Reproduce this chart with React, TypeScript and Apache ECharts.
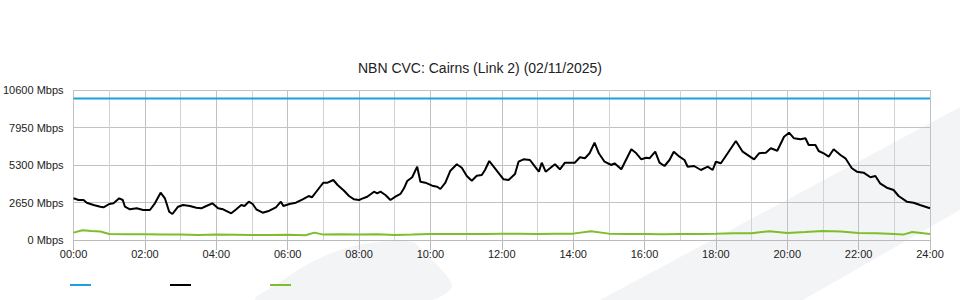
import React, { useEffect, useRef } from "react";
import * as echarts from "echarts";

const title = "NBN CVC: Cairns (Link 2) (02/11/2025)";
const xTickLabels = ["00:00", "02:00", "04:00", "06:00", "08:00", "10:00", "12:00", "14:00", "16:00", "18:00", "20:00", "22:00", "24:00"];
const yTicks = [0, 2650, 5300, 7950, 10600];

const capacityHours = [0, 24];
const capacityMbps = [10000, 10000];

const trafficHours = [
  0.0, 0.14, 0.28, 0.37, 0.56, 0.75, 0.84, 1.0, 1.12, 1.28, 1.38, 1.44, 1.58, 1.77, 1.95, 2.14, 2.28, 2.44, 2.56, 2.68,
  2.77, 2.93, 3.07, 3.26, 3.44, 3.58, 3.72, 3.89, 4.05, 4.19, 4.42, 4.56, 4.7, 4.79, 4.91, 5.02, 5.12, 5.3, 5.49, 5.67,
  5.81, 5.88, 6.05, 6.23, 6.42, 6.59, 6.68, 6.84, 7.0, 7.12, 7.28, 7.4, 7.58, 7.72, 7.86, 8.0, 8.09, 8.23, 8.42, 8.51,
  8.6, 8.74, 8.88, 9.02, 9.16, 9.26, 9.35, 9.49, 9.63, 9.72, 9.86, 10.05, 10.19, 10.28, 10.42, 10.56, 10.74, 10.88, 11.02, 11.16,
  11.3, 11.44, 11.53, 11.65, 11.81, 12.05, 12.19, 12.37, 12.47, 12.61, 12.79, 12.93, 13.04, 13.12, 13.23, 13.35, 13.49, 13.63, 13.77, 14.05,
  14.19, 14.33, 14.46, 14.6, 14.72, 14.88, 15.07, 15.16, 15.35, 15.49, 15.63, 15.77, 15.91, 16.05, 16.14, 16.3, 16.42, 16.56, 16.7, 16.82,
  16.98, 17.12, 17.21, 17.39, 17.58, 17.77, 17.91, 18.0, 18.14, 18.33, 18.56, 18.75, 19.07, 19.21, 19.4, 19.54, 19.72, 19.91, 20.05, 20.19,
  20.37, 20.51, 20.6, 20.79, 20.88, 21.02, 21.16, 21.3, 21.49, 21.63, 21.81, 21.95, 22.14, 22.33, 22.47, 22.6, 22.79, 22.98, 23.12, 23.35,
  23.54, 23.72, 24.0,
];
const trafficMbps = [
  2947, 2827, 2827, 2636, 2473, 2353, 2311, 2544, 2594, 2947, 2827, 2353, 2170, 2240, 2120, 2120, 2594, 3343, 2947, 2000,
  1837, 2353, 2473, 2403, 2283, 2240, 2403, 2594, 2240, 2170, 1887, 2170, 2473, 2403, 2707, 2544, 2170, 1929, 2071, 2311,
  2707, 2403, 2544, 2636, 2876, 3109, 3018, 3533, 4049, 4049, 4240, 3887, 3484, 3109, 2876, 2827, 2919, 3060, 3413, 3300,
  3413, 3180, 2827, 3060, 3251, 3654, 4170, 4431, 5180, 4120, 4049, 3837, 3767, 3604, 4049, 4897, 5350, 5109, 4523, 4191,
  4544, 4594, 4947, 5583, 5067, 4290, 4240, 4664, 5533, 5703, 5654, 5180, 4827, 5463, 4827, 5067, 5350, 4996, 5463, 5463,
  5844, 5774, 6127, 6876, 6127, 5533, 5300, 5420, 4996, 5703, 6410, 6127, 5703, 5816, 5774, 6240, 5463, 5230, 5654, 6240,
  5887, 5654, 5180, 5230, 4947, 5180, 4947, 5533, 5420, 6127, 6996, 6240, 5703, 6127, 6170, 6480, 6311, 7300, 7583, 7187,
  7116, 7187, 6714, 6714, 6290, 6127, 5887, 6410, 6007, 5774, 5067, 4827, 4756, 4431, 4523, 4007, 3696, 3533, 3109, 2707,
  2636, 2473, 2240,
];

const upHours = [
  0, 0.25, 0.5, 0.75, 1, 1.5, 2, 2.5, 3, 3.5, 4, 4.5, 5, 5.5, 6, 6.5, 6.75, 7, 7.5, 8,
  8.5, 9, 9.5, 10, 10.5, 11, 11.5, 12, 12.5, 13, 13.5, 14, 14.5, 15, 15.5, 16, 16.5, 17, 17.5, 18,
  18.5, 19, 19.5, 20, 20.5, 21, 21.5, 22, 22.5, 23, 23.25, 23.5, 24,
];
const upMbps = [
  520, 690, 640, 600, 420, 400, 400, 380, 390, 360, 380, 370, 360, 350, 370, 340, 520, 380, 400, 380,
  400, 360, 380, 420, 430, 420, 430, 440, 440, 420, 440, 450, 620, 450, 420, 430, 410, 420, 430, 440,
  470, 480, 620, 500, 560, 640, 600, 500, 480, 420, 380, 560, 420,
];

const pairs = (xs: number[], ys: number[]) => xs.map((x, i) => [x, ys[i]]);

export default function App() {
  const ref = useRef<HTMLDivElement>(null);
  useEffect(() => {
    if (!ref.current) return;
    document.body.style.margin = "0";
    const chart = echarts.init(ref.current, null, { renderer: "svg" });
    const font = "'Liberation Sans', Arial, sans-serif";
    chart.setOption({
      animation: false,
      backgroundColor: "#ffffff",
      textStyle: { fontFamily: font },
      title: {
        text: title,
        left: "center",
        top: 61,
        padding: 0,
        textStyle: { fontSize: 14, fontWeight: "normal", color: "#222", fontFamily: font },
      },
      graphic: [
        {
          type: "polygon",
          z: -10,
          silent: true,
          shape: {
            points: [[256, 300], [280, 282], [310, 263], [340, 250], [370, 243], [395, 241], [413, 242], [420, 248], [452, 285], [431, 300]],
            smooth: 0.3,
          },
          style: { fill: "#f3f4f6" },
        },
        {
          type: "polygon",
          z: -10,
          silent: true,
          shape: { points: [[600, 300], [960, 107], [960, 210], [803, 300]] },
          style: { fill: "#f3f4f6" },
        },
      ],
      legend: {
        left: 70,
        top: 284,
        icon: "rect",
        itemWidth: 21,
        itemHeight: 2,
        itemGap: 79,
        padding: 0,
        formatter: () => "",
        selectedMode: false,
        data: ["Capacity", "Download", "Upload"],
      },
      grid: { left: 70, right: 30, top: 90, bottom: 60, containLabel: false },
      xAxis: {
        type: "value",
        min: 0,
        max: 24,
        interval: 2,
        axisLine: { show: true, lineStyle: { color: "#bbbbbb", width: 1 } },
        axisTick: { show: true, length: 10, lineStyle: { color: "#bbbbbb" } },
        axisLabel: {
          fontSize: 11,
          color: "#222",
          margin: 8,
          formatter: (v: number) => xTickLabels[Math.round(v / 2)] ?? "",
        },
        splitLine: { show: true, lineStyle: { color: "#c2c2c2", width: 1 } },
        minorTick: { show: false, splitNumber: 2 },
        minorSplitLine: { show: true, lineStyle: { color: "#d2d2d2", width: 1 } },
      },
      yAxis: {
        type: "value",
        min: yTicks[0],
        max: yTicks[yTicks.length - 1],
        interval: 2650,
        axisLine: { show: false },
        axisTick: { show: false },
        axisLabel: { fontSize: 11, color: "#222", margin: 10, formatter: (v: number) => `${v} Mbps` },
        splitLine: { show: true, lineStyle: { color: "#c2c2c2", width: 1 } },
      },
      series: [
        {
          name: "Capacity",
          type: "line",
          data: pairs(capacityHours, capacityMbps),
          symbol: "none",
          lineStyle: { color: "#1ea0dc", width: 2 },
          itemStyle: { color: "#1ea0dc" },
        },
        {
          name: "Download",
          type: "line",
          data: pairs(trafficHours, trafficMbps),
          symbol: "none",
          lineStyle: { color: "#000000", width: 2 },
          itemStyle: { color: "#000000" },
        },
        {
          name: "Upload",
          type: "line",
          data: pairs(upHours, upMbps),
          symbol: "none",
          lineStyle: { color: "#7cbf2b", width: 2 },
          itemStyle: { color: "#7cbf2b" },
        },
      ],
    });
    return () => chart.dispose();
  }, []);
  return <div ref={ref} style={{ width: 960, height: 300, position: "absolute", left: 0, top: 0 }} />;
}
